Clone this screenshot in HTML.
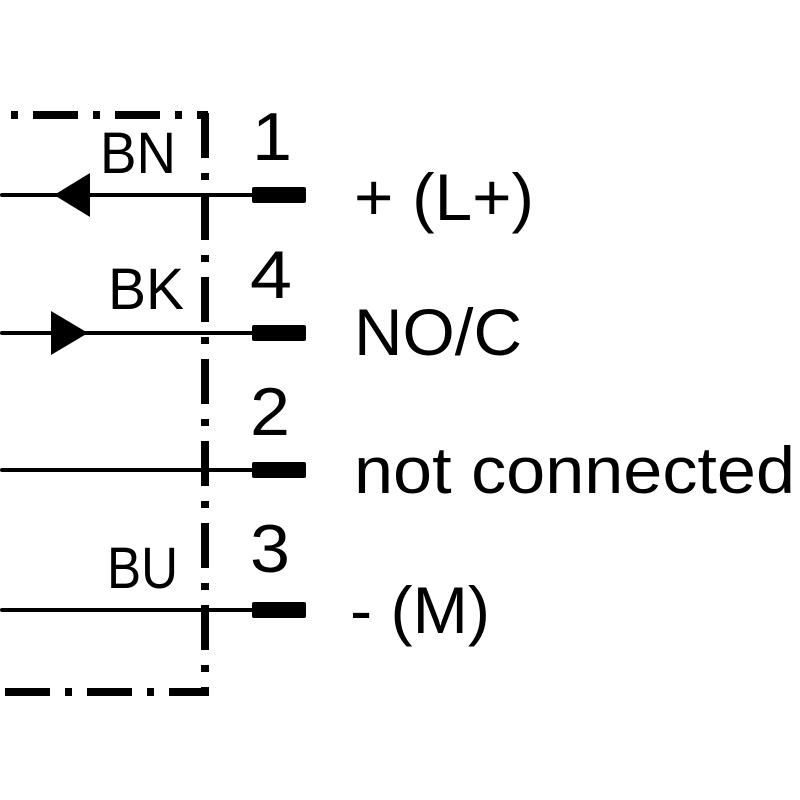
<!DOCTYPE html>
<html><head><style>html,body{margin:0;padding:0;background:#fff}svg{display:block}</style></head>
<body>
<svg width="800" height="800" viewBox="0 0 800 800" xmlns="http://www.w3.org/2000/svg">
<g stroke="#000" fill="none">
<path d="M11 115 H208" stroke-width="8" stroke-dasharray="7 15 45 15"/>
<path d="M205 113 V696" stroke-width="8" stroke-dasharray="45 15 7 15"/>
<path d="M5 692 H209" stroke-width="8" stroke-dasharray="45 15 7 15"/>
<g stroke-width="4" stroke-linecap="round">
<path d="M2 195 H260"/><path d="M2 333 H260"/><path d="M2 470 H260"/><path d="M2 610 H260"/>
</g>
</g>
<g fill="#000">
<rect x="252" y="187" width="54" height="16" rx="2"/>
<rect x="252" y="325" width="54" height="16" rx="2"/>
<rect x="252" y="462" width="54" height="16" rx="2"/>
<rect x="252" y="602" width="54" height="16" rx="2"/>
<path d="M54 195 L90 173 L90 217 Z"/>
<path d="M88 333 L51 311 L51 355 Z"/>
</g>
<g font-family="Liberation Sans, sans-serif" fill="#000">
<text x="100" y="173" font-size="58" textLength="76" lengthAdjust="spacingAndGlyphs">BN</text>
<text x="108" y="309" font-size="58" textLength="76" lengthAdjust="spacingAndGlyphs">BK</text>
<text x="107" y="588" font-size="58" textLength="71" lengthAdjust="spacingAndGlyphs">BU</text>
<text x="252" y="160" font-size="68" textLength="40" lengthAdjust="spacingAndGlyphs">1</text>
<text x="250" y="298" font-size="68" textLength="42" lengthAdjust="spacingAndGlyphs">4</text>
<text x="250" y="435" font-size="68" textLength="40" lengthAdjust="spacingAndGlyphs">2</text>
<text x="250" y="572" font-size="68" textLength="40" lengthAdjust="spacingAndGlyphs">3</text>
<text x="354" y="220" font-size="66" textLength="180" lengthAdjust="spacingAndGlyphs">+ (L+)</text>
<text x="354" y="355" font-size="66" textLength="168" lengthAdjust="spacingAndGlyphs">NO/C</text>
<text x="354" y="493" font-size="66" textLength="441" lengthAdjust="spacingAndGlyphs">not connected</text>
<text x="350" y="633" font-size="66" textLength="140" lengthAdjust="spacingAndGlyphs">- (M)</text>
</g>
</svg>
</body></html>
